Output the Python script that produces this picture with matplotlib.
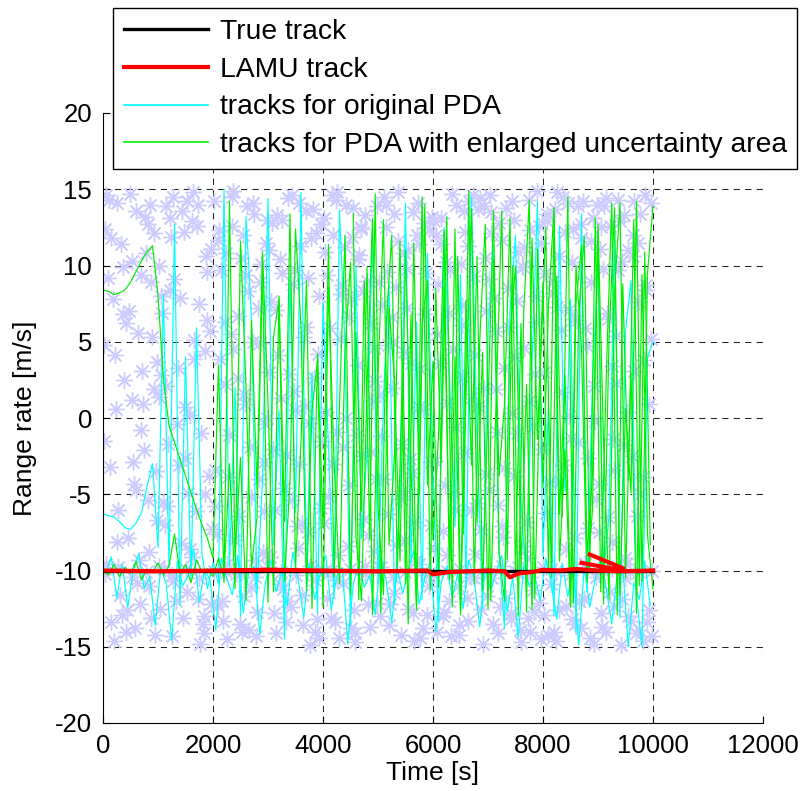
import numpy as np
import matplotlib
matplotlib.use('Agg')
import matplotlib.pyplot as plt

plt.rcParams['font.family'] = ['Liberation Sans', 'DejaVu Sans']
plt.rcParams['axes.unicode_minus'] = False

# clutter measurements (time [s], range rate [m/s])
clutter_t = [
    40, 120, 180, 260, 310, 390, 450, 520, 580, 640, 700, 760, 820, 880, 940, 990, 60, 150, 230, 340, 420, 490, 560, 620, 690, 750, 810, 870, 930, 980, 20, 200, 370, 530, 670, 850,
    1030, 1080, 1140, 1190, 1250, 1300, 1360, 1420, 1470, 1530, 1580, 1640, 1700, 1750, 1810, 1860, 1920, 1970, 1010, 1110, 1220, 1330, 1440, 1550, 1660, 1770, 1880, 1990, 1060, 1280, 1490, 1720, 1900, 1170, 1610, 1840,
    2020, 2070, 2130, 2180, 2240, 2290, 2350, 2410, 2460, 2520, 2570, 2630, 2690, 2740, 2800, 2850, 2910, 2960, 2040, 2150, 2260, 2370, 2480, 2590, 2700, 2810, 2920, 2990, 2100, 2320, 2550, 2770, 2940, 2210, 2650, 2880,
    3030, 3080, 3140, 3190, 3250, 3300, 3360, 3420, 3470, 3530, 3580, 3640, 3700, 3750, 3810, 3860, 3920, 3970, 3010, 3110, 3220, 3330, 3440, 3550, 3660, 3770, 3880, 3990, 3060, 3280, 3490, 3720, 3900, 3170, 3610, 3840,
    4020, 4070, 4130, 4180, 4240, 4290, 4350, 4410, 4460, 4520, 4570, 4630, 4690, 4740, 4800, 4850, 4910, 4960, 4040, 4150, 4260, 4370, 4480, 4590, 4700, 4810, 4920, 4990, 4100, 4320, 4550, 4770, 4940, 4210, 4650, 4880,
    5030, 5080, 5140, 5190, 5250, 5300, 5360, 5420, 5470, 5530, 5580, 5640, 5700, 5750, 5810, 5860, 5920, 5970, 5010, 5110, 5220, 5330, 5440, 5550, 5660, 5770, 5880, 5990, 5060, 5280, 5490, 5720, 5900, 5170, 5610, 5840,
    6020, 6070, 6130, 6180, 6240, 6290, 6350, 6410, 6460, 6520, 6570, 6630, 6690, 6740, 6800, 6850, 6910, 6960, 6040, 6150, 6260, 6370, 6480, 6590, 6700, 6810, 6920, 6990, 6100, 6320, 6550, 6770, 6940, 6210, 6650, 6880,
    7030, 7080, 7140, 7190, 7250, 7300, 7360, 7420, 7470, 7530, 7580, 7640, 7700, 7750, 7810, 7860, 7920, 7970, 7010, 7110, 7220, 7330, 7440, 7550, 7660, 7770, 7880, 7990, 7060, 7280, 7490, 7720, 7900, 7170, 7610, 7840,
    8020, 8070, 8130, 8180, 8240, 8290, 8350, 8410, 8460, 8520, 8570, 8630, 8690, 8740, 8800, 8850, 8910, 8960, 8040, 8150, 8260, 8370, 8480, 8590, 8700, 8810, 8920, 8990, 8100, 8320, 8550, 8770, 8940, 8210, 8650, 8880,
    9030, 9080, 9140, 9190, 9250, 9300, 9360, 9420, 9470, 9530, 9580, 9640, 9700, 9750, 9810, 9860, 9920, 9970, 9010, 9110, 9220, 9330, 9440, 9550, 9660, 9770, 9880, 9990, 9060, 9280, 9490, 9720, 9900, 9170, 9610, 9840,
]
clutter_v = [
    12.4, -3.2, 7.8, 14.1, -11.6, 2.5, -7.9, 10.3, -13.8, 5.6, -0.8, 13.2, -5.4, 8.9, -14.2, 3.7, -9.6, 11.8, 0.6, -12.9, 6.2, 14.7, -4.3, -10.8, 9.4, -2.1, 12.7, -13.1, 1.9, -6.7, 4.8, -14.6, 9.9, 1.2, -12.2, 14.0,
    -12.5, 6.9, 13.9, -1.7, -14.3, 9.1, 3.3, -8.2, 12.2, -11.4, 0.2, 14.8, -6.1, 7.5, -13.5, 4.4, -3.8, 11.1, 1.4, -9.9, 8.4, -12.0, 13.6, -4.9, 5.1, -14.8, 10.6, -7.3, 2.8, 14.5, -2.6, -11.9, 6.4, -5.8, 12.9, -13.0,
    14.2, -7.6, 3.9, -13.3, 10.8, -1.1, 12.6, -10.2, 6.7, -14.0, 1.6, 8.3, -5.2, 13.4, -12.7, 4.9, -8.8, 11.5, -3.4, 9.7, -14.5, 14.9, -6.4, 0.9, -11.1, 7.2, -2.9, 13.0, -12.3, 5.5, 12.0, -9.3, -0.4, 2.2, -13.9, 10.1,
    -9.1, 12.8, -14.1, 4.1, 9.5, -4.6, 14.4, -12.4, 1.8, -7.1, 11.3, -13.6, 6.0, -0.3, 13.7, -10.6, 8.0, -5.9, 3.0, -12.8, 10.4, -2.4, 14.6, -8.5, 5.3, -14.9, 12.1, -1.5, 7.7, -11.2, 0.5, 9.2, -13.2, 13.3, -6.9, 2.6,
    13.1, -11.8, 5.9, -3.0, 14.3, -14.4, 8.7, 0.0, -8.4, 11.9, -12.6, 3.5, 12.4, -6.6, 9.0, -13.7, 1.1, -4.0, 10.9, -10.0, 14.8, -1.9, 6.6, -14.7, 12.5, -7.7, 4.6, -12.1, -5.1, 8.1, 13.8, -9.7, 2.4, -13.4, 10.7, -2.2,
    -13.0, 7.4, 14.0, -6.3, 2.0, -11.5, 11.6, -14.2, 4.3, 9.8, -2.7, 13.5, -9.4, 0.7, -13.8, 6.8, 12.3, -7.0, 1.5, 14.5, -12.2, 8.6, -4.8, 11.0, -14.6, 3.2, -10.3, 13.2, -1.2, 5.0, -8.0, 14.1, -12.9, 9.6, -3.6, 12.8,
    12.9, -14.0, 3.6, -7.4, 10.2, -12.0, 14.7, -0.6, -11.0, 6.1, 13.6, -13.3, 1.3, 9.3, -5.6, 14.4, -14.8, 7.0, -2.8, 11.4, -9.0, 4.5, -13.6, 12.2, -6.0, 0.8, 13.9, -11.7, 8.8, -14.3, 2.7, -8.9, 10.5, -4.4, 14.2, -12.5,
    14.6, -10.5, 5.7, -14.1, 11.7, -3.3, 8.5, -12.8, 13.0, -1.0, -13.9, 9.9, -6.8, 14.3, -11.3, 2.9, 12.6, -14.5, -4.7, 7.9, -12.4, 13.8, 0.3, -9.8, 11.2, -14.0, 6.3, -2.0, 12.1, -7.8, 4.0, -13.1, 14.9, -0.9, 10.0, -12.7,
    -12.9, 13.4, -4.2, 8.2, -14.6, 10.6, 1.7, -8.6, 14.1, -13.2, 6.5, -1.6, 12.7, -11.9, 4.7, -14.4, 13.1, -5.3, 9.5, -10.9, 14.8, -3.1, 7.1, -13.5, 11.8, -7.2, 2.1, 14.0, -14.2, 5.8, 12.4, -9.5, -0.2, 13.7, -12.0, 8.9,
    11.1, -13.7, 14.4, -6.5, 3.4, -12.3, 9.7, -14.9, 13.3, 0.4, -10.1, 12.0, -14.1, 7.6, -3.9, 14.6, -12.6, 5.2, -7.5, 13.9, -11.4, 2.3, 10.3, -13.0, 14.2, -5.0, 8.4, -14.3, 12.5, -1.4, -9.2, 11.5, -13.4, 6.9, -2.5, 3.8,
]
clutter2_t = [
    10, 90, 140, 210, 280, 330, 410, 470, 540, 600, 660, 720, 780, 840, 900, 960, 110, 250, 360, 440, 600, 710, 830, 920, 50,
    1020, 1090, 1150, 1210, 1270, 1340, 1400, 1460, 1520, 1590, 1650, 1710, 1780, 1840, 1890, 1950, 1130, 1240, 1380, 1500, 1620, 1730, 1850, 1960, 1050,
    2030, 2090, 2160, 2220, 2280, 2340, 2390, 2450, 2510, 2560, 2620, 2680, 2730, 2790, 2860, 2930, 2980, 2110, 2230, 2360, 2490, 2600, 2720, 2840, 2970,
    3020, 3090, 3150, 3210, 3260, 3320, 3380, 3430, 3500, 3560, 3620, 3680, 3730, 3790, 3850, 3910, 3960, 3120, 3240, 3350, 3460, 3570, 3690, 3800, 3930,
    4010, 4080, 4140, 4190, 4250, 4310, 4360, 4420, 4470, 4530, 4590, 4640, 4710, 4760, 4820, 4870, 4930, 4060, 4170, 4280, 4400, 4510, 4620, 4730, 4980,
    5020, 5090, 5150, 5200, 5260, 5320, 5370, 5430, 5480, 5540, 5600, 5650, 5710, 5760, 5820, 5870, 5930, 5050, 5180, 5290, 5410, 5520, 5630, 5740, 5960,
    6010, 6080, 6140, 6200, 6250, 6310, 6360, 6420, 6470, 6530, 6590, 6640, 6700, 6760, 6820, 6870, 6930, 6060, 6190, 6300, 6400, 6510, 6620, 6730, 6970,
    7020, 7090, 7150, 7200, 7260, 7320, 7370, 7430, 7480, 7540, 7600, 7650, 7710, 7760, 7820, 7870, 7930, 7050, 7180, 7290, 7410, 7520, 7630, 7740, 7960,
    8010, 8080, 8140, 8200, 8250, 8310, 8360, 8420, 8470, 8530, 8590, 8640, 8700, 8760, 8820, 8870, 8930, 8060, 8190, 8300, 8400, 8510, 8620, 8730, 8970,
    9020, 9090, 9150, 9210, 9260, 9320, 9370, 9430, 9480, 9540, 9600, 9650, 9710, 9760, 9820, 9870, 9930, 9050, 9180, 9300, 9400, 9510, 9630, 9740, 9960,
]
clutter2_v = [
    -1.5, 9.2, -13.4, 4.1, -6.0, 11.4, -14.0, 7.0, -2.9, 13.6, -9.3, 0.9, 10.8, -11.0, 5.3, -3.5, 14.3, -8.1, 6.8, -12.6, -4.7, 3.1, -8.8, 12.1, 14.6,
    10.0, -5.5, 2.1, 13.1, -10.7, -0.4, 7.9, -13.1, 14.2, -8.6, 3.9, 12.6, -1.0, -14.1, 9.6, 5.7, -7.0, 11.9, -3.1, 0.7, -9.1, 14.0, -5.0, -12.2, 8.0,
    -5.8, 11.7, -12.0, 6.3, -3.9, 14.5, -8.0, 2.6, 10.5, -11.7, 13.9, -1.9, 5.0, -14.3, 8.9, -6.1, 0.0, 12.3, -10.1, 4.5, -13.5, 9.4, 14.1, -4.0, -9.0,
    11.0, -2.0, 7.1, -10.9, 13.0, -13.4, 2.9, -5.4, 9.7, 14.1, -11.6, 0.8, -7.5, 11.8, -14.0, 4.2, 12.7, -6.0, 1.3, -12.0, 8.8, -3.0, 13.6, -9.9, -14.4,
    -6.9, 9.4, -13.1, 12.0, -0.9, 5.2, -10.8, 14.0, -4.4, 7.8, -14.1, 10.4, -2.5, 13.3, -12.2, 6.2, -8.7, 0.4, 14.6, -9.0, 11.2, -13.8, -1.1, 8.3, 13.9,
    8.9, -4.0, 12.5, -13.6, 6.6, -8.3, 14.8, -1.7, 10.8, -12.5, 3.6, -6.8, 12.0, -14.4, 0.6, 9.5, -11.0, -9.8, 4.8, 13.4, -5.3, 7.2, -12.8, 11.4, -2.9,
    -8.5, 5.5, 13.1, -12.7, 1.0, 9.7, -4.9, 14.0, -14.2, 7.4, -2.3, 11.3, -10.4, 4.1, 13.7, -7.3, 2.0, 12.0, -13.0, 6.9, -6.0, 10.1, -11.8, 14.6, -3.7,
    9.1, -13.5, 1.9, 12.8, -7.1, -11.8, 6.0, 14.2, -3.8, 10.9, -14.7, 4.6, -9.2, 12.3, -0.5, 8.0, -12.1, 13.5, -5.7, 3.3, -13.2, 7.7, -8.4, 1.1, 11.5,
    3.0, 12.9, -9.9, -14.0, 7.3, -4.1, 14.5, -12.3, 0.1, 10.2, -7.9, 13.9, -13.8, 5.9, -2.6, 11.6, -14.8, -6.2, 9.0, -12.6, 12.2, -1.3, 6.4, 14.2, -10.4,
    -4.3, 9.8, -14.0, 12.6, -8.1, 5.4, 14.3, -11.9, -1.8, 11.0, -13.3, 3.1, -6.4, 13.4, -14.6, 8.7, 0.9, -12.8, 6.5, -3.4, 12.9, -9.6, 10.6, -13.9, 14.1,
]

# target detections close to the true range rate
det_t = [30, 270, 520, 790, 1020, 1260, 1510, 1740, 2010, 2260, 2490, 2760, 3000, 3240,
         3510, 3770, 4010, 4250, 4490, 4760, 5020, 5270, 5500, 5740, 6010, 6260, 6490,
         6750, 7000, 7250, 7510, 7760, 8000, 8240, 8500, 8760, 9010, 9250, 9490, 9750, 9990]
det_v = [-10.2, -9.8, -10.4, -10.1, -9.7, -10.3, -9.9, -10.5, -10.0, -9.6, -10.2, -10.4,
         -9.8, -10.1, -10.3, -9.7, -10.0, -10.6, -9.9, -10.2, -9.8, -10.4, -10.1, -9.6,
         -10.3, -10.0, -9.9, -10.5, -10.2, -9.7, -10.1, -10.4, -9.8, -10.0, -10.3, -9.6,
         -10.2, -9.9, -10.5, -10.1, -10.0]

# scan times of the trackers
scan_t = list(range(0, 10001, 100))
scan_t_half = list(range(50, 10000, 100))
scan_t_late = list(range(4550, 10000, 100))

cyan1_v = [
    -6.3, -6.4, -6.5, -6.8, -7.2, -7.3, -6.9, -6.2, -4.5, -3.0, -8.5, 8.1, -9.8, 12.7, -12.3, 4.0, -10.6, 5.9, -8.9, -11.2, -9.5,
    -10.9, 15.0, -9.7, 2.0, -13.0, 13.2, 6.6, -11.5, -4.1, 14.4, -8.3, 0.5, -14.5, 9.3, -6.2, 14.8, -10.1, 3.0, -12.8, 7.6,
    -2.0, -11.8, 13.6, 4.7, -13.6, 10.0, -7.9, -2.2, 12.5, -10.9, 1.4, 8.9, -12.2, -5.2, 14.1, -9.5, 6.3, -11.9, 10.8, -3.6,
    -13.3, 12.5, 2.9, -7.1, 9.4, -11.2, 14.5, -1.1, -12.5, 5.6, 11.3, -8.8, -13.8, 7.0, 12.0, -5.4, -11.0, 3.5, 14.2, -9.1,
    0.8, -12.9, 12.6, -4.8, 7.8, -14.0, 13.4, -11.4, 2.3, 10.5, -10.2, -6.5, 12.2, -13.1, 5.7, 9.0, -11.7, -15.0, 4.0, 5.0,
]
cyan2_v = [
    -10.2, -9.1, -11.8, -9.6, -12.4, -10.0, -8.9, -11.2, -10.4, -13.6,
    -9.8, -10.9, -14.6, -9.4, -11.0, -10.3, -8.6, -12.1, -9.9, -10.7,
    -13.9, -9.2, -10.5, -11.6, -9.0, -12.8, -10.1, -9.7, -14.2, -10.8,
    -9.3, -11.4, -10.0, -12.3, -8.8, -10.6, -13.1, -9.5, -11.9, -10.2,
    -9.0, -12.6, -10.4, -9.8, -14.8, -10.9, -9.6, -11.1, -10.3, -12.9,
    -9.1, -10.7, -13.4, -9.9, -11.5, -10.0, -8.7, -12.2, -10.5, -9.4,
    -14.0, -10.8, -9.7, -11.8, -10.2, -12.5, -9.3, -10.6, -13.7, -9.8,
    -11.3, -10.1, -9.0, -12.7, -10.4, -14.4, -9.6, -11.0, -10.3, -12.0,
    -9.2, -10.9, -13.2, -9.5, -11.7, -10.0, -14.9, -9.8, -12.4, -10.6,
    -9.1, -11.2, -13.5, -10.2, -9.7, -15.0, -10.8, -11.9, -9.4, -12.3,
]

green1_v = [
    -10.0, -10.3, -9.6, -10.4, -9.8, -10.2, -9.4, -10.6, -9.9, -10.1, -9.5, -10.3, -9.7, -7.6, -10.2, -9.6, -10.8, -9.3, -10.1, -9.9, -10.4,
    -9.2, -10.5, -3.0, -11.2, 11.6, 2.0, -9.8, -6.5, 9.9, -12.1, 5.3, 7.8, -10.7, -4.1, 12.4, 6.0, -11.3, 0.5, 3.8, -12.4,
    8.6, -2.7, -10.9, 4.4, 10.2, -7.8, -12.0, 1.9, 13.1, -5.8, -11.6, 7.3, 2.5, -9.4, 11.0, -3.3, -12.6, 6.1, 9.0, -8.0,
    -1.2, 12.3, -10.6, 4.0, -12.9, 7.7, -3.1, 10.6, -11.3, 0.8, 13.6, -8.7, -12.0, 5.5, 9.9, -10.0, 2.2, -12.6, 11.1, -4.6,
    7.4, 13.8, -9.4, -2.1, -12.3, 10.0, 4.6, -10.8, -6.0, 12.7, -1.5, -11.9, 8.2, 14.1, -10.5, 3.0, -12.8, 9.4, -7.7, -11.2,
]
green2_v = [
    8.4, 8.3, 8.1, 8.2, 8.4, 8.9, 9.6, 10.3, 10.9, 11.3, 8.0, 2.5, -0.5, -1.6, -2.7, -3.8, -4.9, -6.0, -7.0, -7.9, -9.2,
    3.5, -10.8, 14.2, -9.1, -2.6, -12.0, 6.4, -4.7, 10.9, 1.0, -11.4, 8.0, -6.8, 13.4, -9.9, -1.5, 9.0, -12.5, 4.2, -7.2,
    11.4, -10.4, 0.8, 12.0, -11.6, 5.6, -6.1, 9.9, -12.9, 2.7, 13.0, -8.3, -2.5, 11.6, -10.9, 6.8, -12.2, 14.5, -4.4, 3.7,
    -11.1, 8.6, -8.8, 12.4, -12.6, 1.5, 13.7, -6.9, 4.3, -12.5, 10.4, -3.8, 0.9, 13.1, -10.2, 6.2, -12.7, 11.8, -1.4, 8.9,
    -10.0, 13.2, -6.3, 2.8, -12.4, 7.5, 11.3, -9.0, -3.7, 12.2, -12.2, 5.1, 13.8, -11.6, 0.6, -4.9, 14.2, -10.7, 9.5, 13.9,
]
green3_v = [
    13.4, -11.9, 9.0, -8.0, 14.7, -12.8, 6.2, 12.0, -10.1, 3.9, -13.5, 11.5, -5.0, 14.0, -11.3, 8.5, -2.9, 13.2, -12.4, 10.6,
    -7.6, 14.9, -10.9, 5.1, 12.7, -12.0, 1.4, 13.6, -9.3, 10.0, -13.0, 7.0, 14.3, -11.8, 3.0, 12.5, -10.5, 9.3, -6.5, 14.5,
    -12.2, 6.7, 11.9, -9.9, 13.1, -11.4, 2.7, 14.1, -12.9, 8.8, -4.1, 13.0, -11.0, 10.9, -8.3,
]

true_t = [0, 10000]
true_v = [-10, -10]

nan = float('nan')
lamu_t = [0, 1000, 2000, 3000, 4000, 5000, 5900, 6000, 6300, 7000, 7300, 7400, 7550, 7800,
          8000, 8300, 8600, 9000, 9400, 10000, nan, 8700, 9450, nan, 8850, 9450]
lamu_v = [-10.0, -10.05, -10.0, -9.95, -10.0, -10.05, -10.0, -10.25, -10.1, -10.0, -10.05,
          -10.45, -10.2, -10.1, -9.95, -10.0, -9.9, -10.0, -10.05, -10.0, nan, -9.5, -10.0,
          nan, -8.95, -9.85]


fig = plt.figure(figsize=(8.04, 7.91), dpi=100)
ax = fig.add_axes([103 / 804, 1 - 723 / 791, 660 / 804, 610 / 791])

star = (8, 2, 0)
for tt, vv in [(clutter_t, clutter_v), (clutter2_t, clutter2_v), (det_t, det_v)]:
    ax.plot(tt, vv, linestyle='none', marker=star, markersize=12,
            markeredgewidth=1.0, color='#ccccff')

green = '#00ee00'
ax.plot(scan_t, cyan1_v, color='cyan', lw=0.85, label='tracks for original PDA')
ax.plot(scan_t_half, cyan2_v, color='cyan', lw=0.85)
ax.plot(scan_t, green1_v, color=green, lw=0.85,
        label='tracks for PDA with enlarged uncertainty area')
ax.plot(scan_t, green2_v, color=green, lw=0.85)
ax.plot(scan_t_late, green3_v, color=green, lw=0.85)
ax.plot(true_t, true_v, color='black', lw=2.4, label='True track')
ax.plot(lamu_t, lamu_v, color='red', lw=3, label='LAMU track')

ax.set_xlim(0, 12000)
ax.set_ylim(-20, 20)
ax.set_xticks(range(0, 12001, 2000))
ax.set_yticks(range(-20, 21, 5))
ax.set_axisbelow(True)
ax.grid(True, color='#222222', linestyle=(0, (6, 5)), lw=0.75)
ax.spines['top'].set_visible(False)
ax.spines['right'].set_visible(False)
ax.tick_params(direction='in', length=5, labelsize=18.5, pad=8)
ax.set_xlabel('Time [s]', fontsize=19, labelpad=2)
ax.set_ylabel('Range rate [m/s]', fontsize=19, labelpad=13)

handles, labels = ax.get_legend_handles_labels()
order = [labels.index(s) for s in ['True track', 'LAMU track', 'tracks for original PDA',
                                   'tracks for PDA with enlarged uncertainty area']]
leg = ax.legend([handles[i] for i in order], [labels[i] for i in order],
                loc='upper left', bbox_to_anchor=(10 / 660, 1 + 105 / 610),
                fontsize=20.3, frameon=True, fancybox=False, framealpha=1,
                edgecolor='black', handlelength=3.0, handletextpad=0.4,
                labelspacing=0.42, borderpad=0.38, borderaxespad=0)
leg.get_frame().set_linewidth(1.0)
for line in leg.get_lines()[2:]:
    line.set_linewidth(1.2)

fig.savefig('out.png', dpi=100)
